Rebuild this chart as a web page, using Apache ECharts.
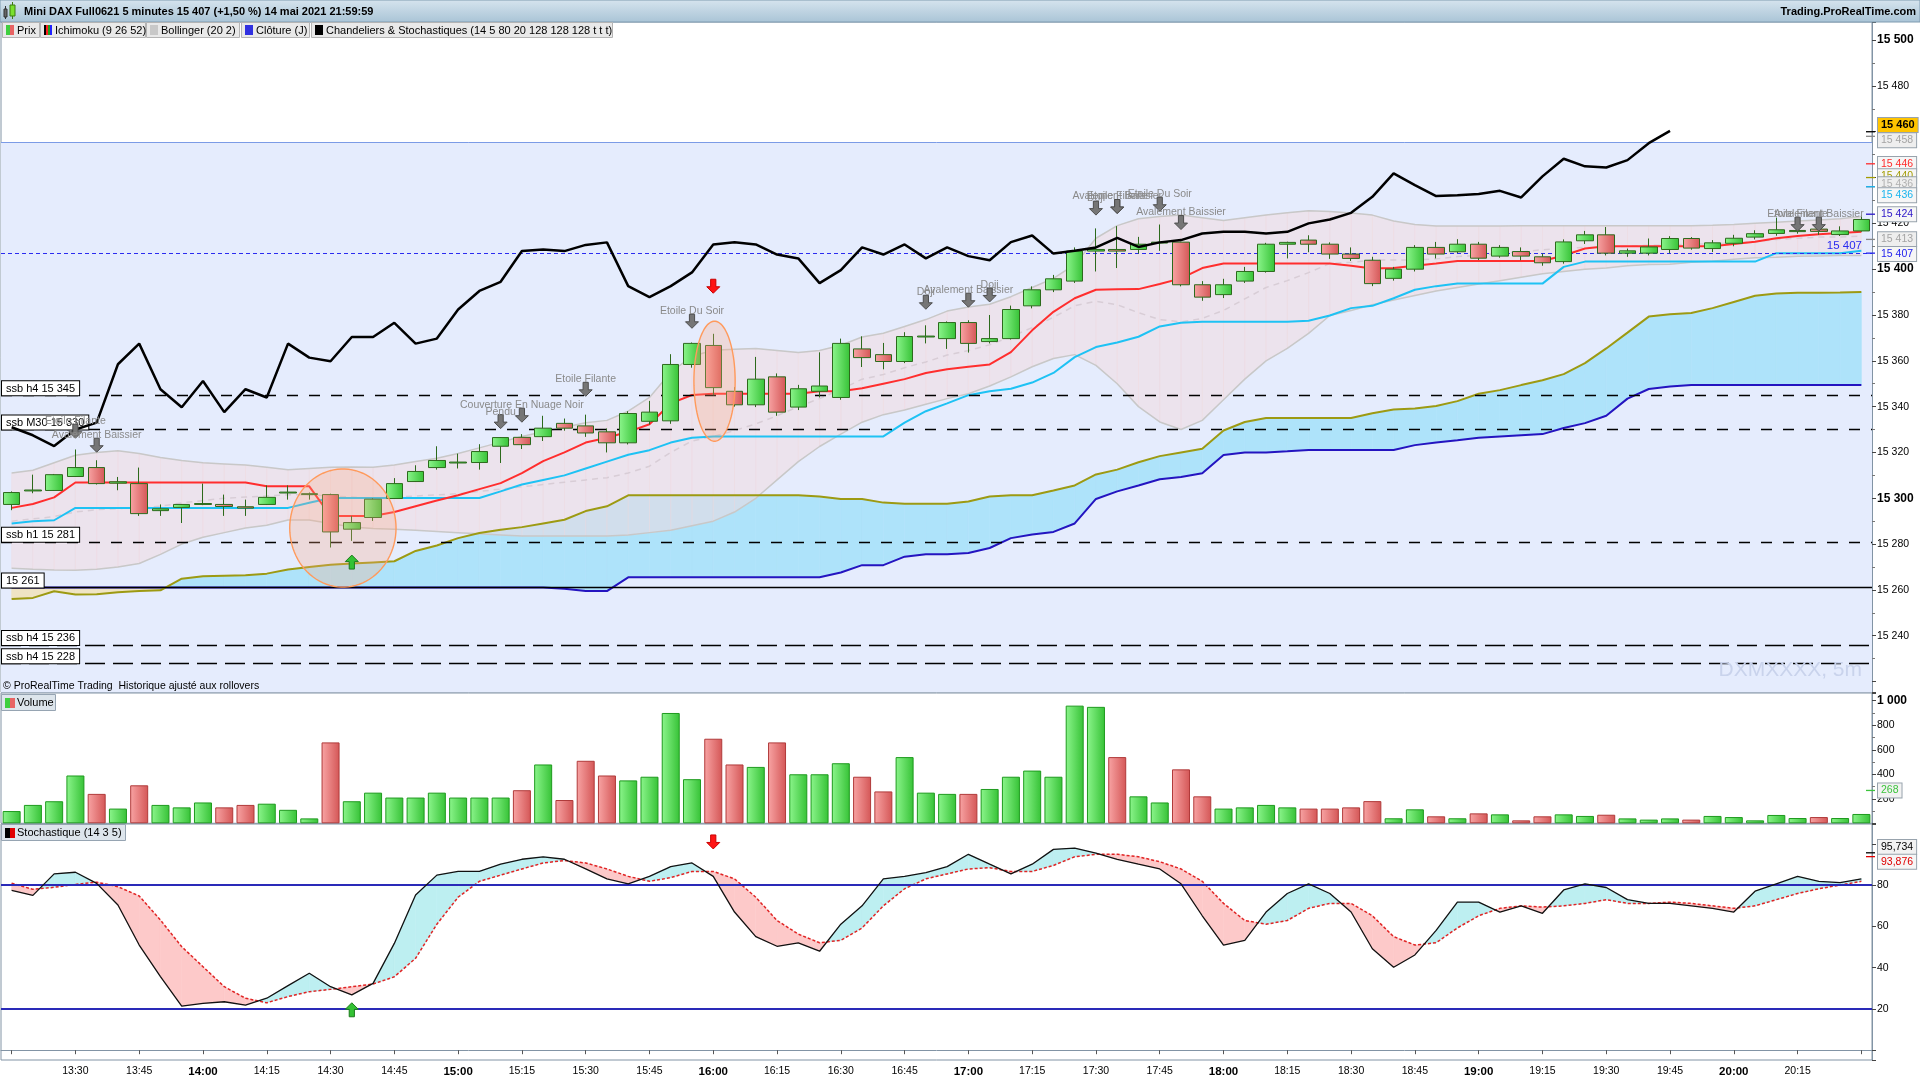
<!DOCTYPE html>
<html>
<head>
<meta charset="utf-8">
<title>Mini DAX Full0621 5 minutes</title>
<script src="https://cdn.jsdelivr.net/npm/echarts@6/dist/echarts.min.js"></script>
<style>
html,body{margin:0;padding:0;background:#ffffff;overflow:hidden}
#chart{width:1920px;height:1080px}
</style>
</head>
<body>
<div id="chart"></div>
<script>
// ================= DATA =================
const times = ['13:15','13:20','13:25','13:30','13:35','13:40','13:45','13:50','13:55',
'14:00','14:05','14:10','14:15','14:20','14:25','14:30','14:35','14:40','14:45','14:50','14:55',
'15:00','15:05','15:10','15:15','15:20','15:25','15:30','15:35','15:40','15:45','15:50','15:55',
'16:00','16:05','16:10','16:15','16:20','16:25','16:30','16:35','16:40','16:45','16:50','16:55',
'17:00','17:05','17:10','17:15','17:20','17:25','17:30','17:35','17:40','17:45','17:50','17:55',
'18:00','18:05','18:10','18:15','18:20','18:25','18:30','18:35','18:40','18:45','18:50','18:55',
'19:00','19:05','19:10','19:15','19:20','19:25','19:30','19:35','19:40','19:45','19:50','19:55',
'20:00','20:05','20:10','20:15','20:20','20:25','20:30'];

const tickTimes = ['13:15','13:30','13:45','14:00','14:15','14:30','14:45','15:00','15:15','15:30','15:45',
'16:00','16:15','16:30','16:45','17:00','17:15','17:30','17:45','18:00','18:15','18:30','18:45',
'19:00','19:15','19:30','19:45','20:00','20:15','20:30'];
const labelTimes = ['13:30','13:45','14:00','14:15','14:30','14:45','15:00','15:15','15:30','15:45',
'16:00','16:15','16:30','16:45','17:00','17:15','17:30','17:45','18:00','18:15','18:30','18:45',
'19:00','19:15','19:30','19:45','20:00','20:15'];

// candles: [open, close, low, high]
const candles = [
[15297.3,15302.5,15294.8,15303.0],[15303.2,15303.6,15302.2,15310.3],[15303.4,15310.3,15303.2,15310.6],[15309.5,15313.4,15309.3,15321.3],
[15313.4,15306.4,15306.0,15316.6],[15306.6,15307.2,15303.5,15309.3],[15306.4,15293.3,15292.3,15313.4],[15294.6,15295.4,15292.3,15297.3],
[15296.0,15297.3,15289.2,15297.5],[15297.3,15297.7,15297.0,15306.4],[15297.3,15296.4,15292.3,15301.6],[15296.3,15295.7,15292.3,15299.4],
[15297.3,15300.4,15297.1,15305.6],[15302.3,15302.7,15299.4,15305.6],[15301.6,15302.0,15299.4,15302.5],[15301.6,15285.3,15278.5,15302.0],
[15286.5,15289.4,15281.4,15292.3],[15291.6,15299.6,15290.1,15300.0],[15299.9,15306.4,15299.7,15308.8],[15307.3,15311.7,15307.1,15314.4],
[15313.4,15316.5,15312.5,15322.7],[15315.4,15315.8,15313.0,15319.5],[15315.6,15320.4,15312.5,15323.6],[15322.7,15326.5,15315.4,15326.7],
[15326.6,15323.4,15321.5,15328.0],[15326.9,15330.6,15325.0,15336.0],[15332.7,15330.6,15329.5,15334.8],[15331.6,15328.5,15326.8,15336.5],
[15329.0,15324.2,15320.0,15330.5],[15324.2,15337.0,15323.5,15338.0],[15333.6,15337.6,15332.2,15342.5],[15333.8,15358.4,15332.5,15362.9],
[15358.4,15367.6,15357.0,15368.0],[15366.7,15348.3,15345.0,15371.8],[15346.7,15340.8,15340.0,15348.5],[15340.8,15352.0,15339.8,15361.7],
[15353.0,15337.6,15336.0,15354.5],[15339.8,15347.8,15338.5,15349.5],[15346.7,15349.0,15344.0,15363.7],[15344.0,15367.6,15343.0,15369.7],
[15365.2,15361.4,15357.3,15370.7],[15362.7,15359.7,15356.3,15367.8],[15359.7,15370.6,15359.0,15372.5],[15370.4,15370.8,15367.6,15375.5],
[15369.7,15376.7,15365.2,15377.2],[15376.7,15367.6,15363.6,15377.7],[15368.4,15369.7,15367.6,15380.0],[15369.7,15382.4,15369.3,15384.1],
[15384.0,15391.0,15382.9,15392.5],[15391.0,15395.8,15390.0,15397.5],[15394.8,15407.9,15394.0,15409.5],[15407.9,15408.6,15399.0,15417.8],
[15408.6,15407.9,15400.5,15418.8],[15408.6,15410.9,15406.8,15414.1],[15411.4,15411.8,15408.0,15419.5],[15411.8,15393.2,15392.5,15412.0],
[15393.2,15387.8,15386.2,15394.8],[15388.9,15393.2,15387.4,15395.8],[15394.8,15399.0,15394.0,15401.0],[15399.0,15410.9,15398.5,15411.5],
[15410.9,15411.7,15404.7,15412.0],[15412.7,15410.9,15407.4,15414.8],[15410.9,15406.6,15404.5,15411.7],[15406.6,15404.7,15403.6,15409.5],
[15403.9,15393.7,15392.6,15405.4],[15396.0,15400.0,15395.0,15401.0],[15400.0,15409.5,15399.0,15410.5],[15409.5,15406.6,15404.7,15411.9],
[15407.6,15410.9,15407.0,15413.1],[15410.9,15404.8,15404.0,15411.9],[15405.7,15409.5,15405.0,15410.5],[15407.7,15405.7,15403.9,15409.5],
[15405.4,15402.8,15401.5,15406.8],[15403.3,15411.9,15402.4,15413.0],[15412.4,15415.0,15411.0,15416.7],[15415.0,15407.0,15406.0,15418.4],
[15407.0,15408.0,15405.4,15409.0],[15407.0,15409.7,15406.0,15413.4],[15408.6,15413.4,15407.0,15414.4],[15413.4,15409.2,15408.5,15414.0],
[15409.0,15411.5,15407.5,15412.7],[15411.3,15413.5,15410.0,15415.0],[15414.0,15415.5,15413.0,15417.0],[15415.6,15417.2,15414.6,15422.5],
[15416.4,15416.9,15415.5,15418.0],[15417.5,15416.5,15415.0,15419.0],[15415.1,15416.7,15414.5,15418.7],[15416.7,15421.7,15416.4,15423.6]];

const volumes = [100,150,180,390,240,120,310,150,130,170,130,150,160,110,40,660,180,250,210,210,250,210,
210,210,270,480,190,510,390,350,380,900,360,690,480,460,660,400,400,490,380,260,540,250,240,240,280,380,
430,380,960,950,540,220,170,440,220,120,130,150,130,120,120,130,181,41,114,57,41,81,73,24,57,73,60,70,
40,30,40,30,60,51,24,68,43,51,43,76];

const tenkan = [15295.8,15297.5,15300.4,15306.9,15306.9,15306.9,15306.9,15306.9,15306.9,15306.9,15306.9,15306.9,
15305.2,15305.2,15305.2,15292.3,15292.3,15292.3,15294.0,15296.5,15299.0,15301.3,15304.0,15306.6,15311.0,15316.2,
15320.0,15324.3,15326.4,15329.0,15332.3,15341.4,15345.1,15345.6,15345.6,15345.6,15345.6,15345.6,15346.7,15346.7,
15348.0,15350.0,15352.0,15354.7,15356.3,15357.4,15358.4,15363.8,15373.3,15381.4,15387.3,15391.0,15391.2,15391.3,
15393.5,15396.0,15400.5,15402.5,15402.5,15402.5,15402.5,15402.5,15402.5,15401.5,15400.3,15400.5,15401.5,15402.5,
15403.6,15403.6,15403.6,15403.6,15403.6,15406.0,15409.0,15410.0,15410.0,15410.0,15410.0,15410.0,15410.0,15411.0,
15412.0,15413.5,15414.5,15415.3,15415.8,15416.3];

const kijun = [15289.0,15290.0,15290.4,15295.8,15295.8,15295.8,15295.8,15295.8,15295.8,15295.8,15295.8,15295.8,
15295.8,15295.8,15298.0,15300.1,15300.1,15300.1,15300.1,15300.1,15300.1,15300.1,15300.1,15303.0,15306.0,15308.0,
15310.0,15313.0,15316.0,15319.0,15321.0,15324.3,15326.4,15327.0,15327.0,15327.0,15327.0,15327.0,15327.0,15327.0,
15327.0,15327.0,15333.0,15338.0,15341.4,15345.0,15346.7,15347.8,15350.5,15354.7,15361.6,15366.0,15368.0,15370.5,
15375.0,15376.6,15377.0,15377.0,15377.0,15377.0,15377.0,15377.5,15379.8,15383.0,15384.0,15387.3,15391.0,15392.6,
15393.7,15393.7,15393.7,15393.7,15393.7,15401.0,15403.3,15403.3,15403.3,15403.3,15403.3,15403.3,15403.3,15403.3,
15403.3,15407.0,15407.0,15407.0,15407.0,15408.0];

const senkouA = [15256.0,15256.5,15259.4,15258.0,15258.1,15259.0,15259.5,15259.8,15264.9,15266.0,15266.2,15266.4,
15267.1,15268.9,15270.0,15271.0,15271.5,15272.0,15272.5,15277.0,15279.4,15282.6,15284.8,15286.3,15287.4,15289.0,
15290.6,15294.4,15296.5,15301.3,15301.3,15301.3,15301.3,15301.3,15301.3,15301.3,15301.3,15301.3,15300.8,15299.7,
15299.7,15298.1,15297.6,15297.6,15297.6,15298.6,15300.8,15301.3,15301.3,15303.4,15305.6,15310.4,15312.5,15315.7,
15318.4,15320.0,15321.6,15329.6,15333.3,15335.0,15335.0,15335.0,15335.0,15335.0,15337.1,15338.7,15339.2,15340.3,
15342.4,15345.6,15347.2,15349.4,15351.5,15354.2,15359.0,15365.4,15372.3,15379.3,15380.3,15380.9,15383.0,15385.7,
15388.4,15389.4,15389.7,15389.7,15389.8,15390.0];

const senkouB = [15261,15261,15261,15261,15261,15261,15261,15261,15261,15261,15261,15261,15261,15261,15261,15261,
15261,15261,15261,15261,15261,15261,15261,15261,15261,15261,15260.5,15259.5,15259.5,15265.5,15265.5,15265.5,15265.5,
15265.5,15265.5,15265.5,15265.5,15265.5,15265.5,15267.6,15270.8,15270.8,15274.5,15275.6,15275.6,15276.1,15278.3,
15282.6,15284.2,15285.3,15289.0,15299.7,15303.0,15305.6,15308.3,15309.3,15310.9,15318.9,15320.0,15320.0,15320.5,
15321.1,15321.1,15321.1,15321.1,15321.1,15323.2,15324.3,15325.3,15326.4,15327.0,15327.5,15328.0,15330.7,15332.8,
15336.0,15343.5,15347.7,15348.8,15349.4,15349.4,15349.4,15349.4,15349.4,15349.4,15349.4,15349.4,15349.4];

const closeLine = [15331.0,15327.5,15322.8,15330.0,15333.0,15358.5,15367.5,15347.6,15339.7,15351.2,15337.6,15347.6,
15344.0,15367.5,15361.4,15359.8,15370.4,15370.4,15376.6,15367.5,15369.7,15382.4,15390.5,15394.5,15407.9,15408.6,
15407.9,15410.6,15411.7,15392.6,15387.8,15392.6,15398.6,15410.8,15411.8,15410.8,15406.4,15404.7,15393.9,15399.6,
15409.5,15406.4,15410.8,15404.7,15409.5,15405.7,15403.9,15411.8,15414.7,15406.8,15408.0,15409.5,15413.7,15409.7,
15411.7,15412.7,15415.6,15416.3,15416.3,15415.6,15416.3,15420.0,15421.7,15424.6,15431.6,15441.8,15436.7,15431.9,
15432.3,15432.8,15434.2,15431.3,15440.5,15448.2,15444.9,15444.4,15447.6,15455.0,15460.4,
null,null,null,null,null,null,null,null,null];

const bollUp = [15311.0,15312.2,15315.5,15318.8,15320.0,15320.7,15319.5,15317.8,15316.5,15315.5,15315.0,15314.5,
15313.5,15312.5,15313.0,15313.5,15313.7,15313.5,15314.5,15316.0,15317.5,15319.5,15322.0,15324.5,15327.0,15329.0,
15331.0,15333.0,15334.0,15338.0,15344.0,15355.0,15362.0,15364.6,15365.0,15365.4,15364.5,15363.6,15364.5,15366.8,
15370.4,15372.0,15375.0,15378.0,15381.7,15383.5,15384.7,15388.0,15392.0,15396.0,15402.0,15413.5,15419.0,15422.0,
15423.0,15423.6,15422.5,15421.2,15422.5,15423.6,15424.6,15425.5,15425.2,15424.5,15423.6,15421.0,15419.5,15418.8,
15418.8,15418.8,15418.8,15419.0,15419.0,15419.0,15419.0,15419.0,15419.0,15419.0,15419.0,15419.0,15419.2,15419.5,
15420.0,15420.5,15421.0,15421.5,15422.0,15423.0];

const bollLow = [15269.5,15269.0,15268.7,15268.6,15269.0,15270.0,15271.5,15275.5,15280.0,15283.0,15285.0,15287.0,
15288.2,15290.5,15290.5,15289.0,15287.5,15286.8,15286.5,15286.0,15285.5,15285.0,15284.5,15284.0,15283.5,15283.5,
15283.5,15283.5,15283.5,15284.0,15285.0,15286.0,15288.0,15290.0,15294.0,15300.0,15308.0,15316.0,15322.6,15328.0,
15333.2,15336.5,15338.5,15341.0,15343.5,15345.6,15349.0,15353.0,15357.4,15361.0,15362.7,15358.0,15350.0,15340.0,
15333.3,15330.0,15334.0,15343.0,15352.0,15360.0,15365.4,15372.0,15379.8,15382.0,15384.5,15386.5,15388.5,15390.5,
15392.0,15393.5,15395.0,15396.5,15398.0,15399.0,15400.0,15400.5,15401.5,15402.0,15402.2,15403.0,15403.5,15404.3,
15405.0,15405.2,15405.6,15405.8,15406.0,15406.0];

const bollMid = [15290.0,15291.0,15292.0,15294.0,15295.0,15295.5,15296.0,15296.5,15298.0,15299.0,15300.0,15300.5,
15301.0,15301.5,15301.5,15301.0,15300.5,15300.0,15300.5,15301.0,15301.5,15302.0,15303.0,15304.0,15305.0,15306.0,
15307.0,15308.0,15309.0,15311.0,15314.0,15320.0,15325.0,15327.0,15329.5,15332.5,15336.0,15340.0,15343.5,15347.5,
15352.0,15354.0,15357.0,15359.5,15362.5,15364.5,15367.0,15370.5,15374.5,15379.0,15384.0,15386.0,15384.5,15381.0,
15378.0,15377.0,15378.5,15382.0,15387.0,15392.0,15395.0,15398.5,15402.5,15403.0,15404.0,15404.0,15404.0,15404.5,
15405.5,15406.0,15407.0,15407.5,15408.5,15409.0,15409.5,15409.5,15410.0,15410.5,15410.5,15411.0,15411.0,15411.5,
15412.0,15413.0,15413.5,15414.0,15414.0,15414.5];

const stochK = [77.5,75.1,85.5,86.3,80.9,70.4,51,35.7,21.4,22.7,23.5,21.9,25.2,31.3,37.3,30.8,26.8,32.4,51.8,75.3,
84.9,86.7,86.7,90.2,92.6,93.8,92.6,87.9,83.1,80.7,84.3,89,90.8,84.3,67,55.1,50.4,52.1,48,61.1,
70,83.1,84.3,86.1,89,95,90.2,85.5,90.2,97.4,98,95.6,92.6,90.2,87.9,80.7,65.2,51,53.3,67,
76,80.7,76,67,49.2,40.2,46.2,58.1,71.8,71.8,67,70,66.4,77.7,80.7,78.9,73,71.2,71.2,70,
68.8,67,77.1,80.7,84.3,81.9,81.3,83.1];
const stochD = [81,78,79,80.4,81.5,79.3,74.8,63.1,50.2,40.5,30.8,25.2,23,26,28.4,29.5,30.8,32.1,35.6,44.6,
61.1,74.2,81.9,84.9,87.9,90.8,92,90.8,87.9,84.3,81.9,83.7,86.7,86.7,83.1,74.2,62.9,56.3,52.1,53.3,
59.3,70,78.3,83.1,85.5,87.9,88.5,86.7,86.7,89.6,93.8,95,95,93.8,91.4,87.9,81.9,71.2,62.9,61.1,
62.9,68.8,71.2,71.2,65.2,55.1,51,52.1,59.3,65.2,68.8,70,69.4,70,71.2,73,71.2,71.2,71.8,71.2,
70,68.8,70,73,76,78.3,80.1,81.9];

// horizontal levels (left boxed labels)
const levelValues = [15345, 15330, 15281, 15261, 15236, 15228];
const levelTexts  = ['ssb h4 15 345','ssb M30 15 330','ssb h1 15 281','15 261','ssb h4 15 236','ssb h4 15 228'];
const levelKinds  = ['short','short','short','solid','long','long'];
const dailyClose = 15407;
const zoneRange = [15215.3, 15455.5];

// right-axis value tags (positions as drawn, pushed apart) and their true values (axis ticks)
const tagValues = [15462.9, 15456.3, 15445.9, 15440.6, 15437.1, 15432.3, 15424.0, 15413.1, 15406.6];
const tagTrue   = [15460, 15458, 15446, 15440, 15436, 15436, 15424, 15413, 15407];
const tagTexts  = ['15 460','15 458','15 446','15 440','15 436','15 436','15 424','15 413','15 407'];
const tagColors = ['#000000','#a4a4a4','#ff2a2a','#a39c00','#b0b0b0','#19b4ee','#2a14c8','#a4a4a4','#2222ee'];
const volTagValue = 268, volTagText = '268';
const stochTagValues = [98.5, 91.4];
const stochTagTrue = [95.734, 93.876];
const stochTagTexts = ['95,734','93,876'];

// candlestick pattern annotations
const patIdx  = [3,4,23,24,27,32,43,45,46,51,52,52,54,55,84,85];
const patTip  = [15326.2,15320.1,15330.4,15333.2,15344.5,15374.2,15382.5,15383.4,15385.7,15423.6,15424.3,15424.3,15425.3,15417.3,15416.6,15416.6];
const patText = ['Etoile Filante','Avalement Baissier','Pendu','Couverture En Nuage Noir','Etoile Filante','Etoile Du Soir',
'Doji','Avalement Baissier','Doji','Doji','Avalement Baissier','Etoile Filante','Etoile Du Soir','Avalement Baissier',
'Etoile Filante','Avalement Baissier'];
const sigIdx = [33, 16], sigTip = [15389.5, 15275.2], sigDir = ['down','up'];
const stochSigIdx = [16, 33], stochSigTip = [23, 97.6], stochSigDir = ['up','down'];
// highlight ellipses: [centre index, centre price, x radius (bars), y radius (points)]
const ellipses = [[15.58, 15287, 2.5, 25.8], [33.06, 15351.1, 0.97, 26.2]];

// ================= CHART =================
const FONT = '"Liberation Sans", Arial, sans-serif';
const G = echarts.graphic;
const chart = echarts.init(document.getElementById('chart'), null, {width:1920, height:1080});
const fmt = v => String(Math.round(v)).replace(/\B(?=(\d{3})+(?!\d))/g, ' ');
const greenGrad = new G.LinearGradient(0,0,1,0,[{offset:0,color:'#8cf58c'},{offset:1,color:'#36c236'}]);
const redGrad = new G.LinearGradient(0,0,1,0,[{offset:0,color:'#f8a4a4'},{offset:1,color:'#d45656'}]);
const AX = '#8294a5';
const NOLINE = {color:'rgba(0,0,0,0)', width:1, type:'solid'};

function bandSeries(a, b, colUp, colDown, xi, yi, z) {
  const d = [];
  for (let i = 0; i < a.length - 1; i++) {
    if (a[i] == null || b[i] == null || a[i+1] == null || b[i+1] == null) continue;
    d.push([i, a[i], b[i], a[i+1], b[i+1]]);
  }
  return {
    type:'custom', xAxisIndex:xi, yAxisIndex:yi, z, silent:true, clip:true, data:d,
    encode:{x:0, y:[1,2]},
    renderItem(params, api) {
      const i = api.value(0), a0 = api.value(1), b0 = api.value(2), a1 = api.value(3), b1 = api.value(4);
      const A0 = api.coord([i, a0]), B0 = api.coord([i, b0]), A1 = api.coord([i+1, a1]), B1 = api.coord([i+1, b1]);
      const d0 = a0 - b0, d1 = a1 - b1;
      const col = v => v >= 0 ? colUp : colDown;
      const st = c => ({fill:c, stroke:c, lineWidth:0.6});
      if (d0 * d1 >= 0) {
        return {type:'polygon', shape:{points:[A0, A1, B1, B0]}, style:st(col(d0 + d1))};
      }
      const t = d0 / (d0 - d1);
      const C = [A0[0] + (A1[0] - A0[0]) * t, A0[1] + (A1[1] - A0[1]) * t];
      return {type:'group', children:[
        {type:'polygon', shape:{points:[A0, C, B0]}, style:st(col(d0))},
        {type:'polygon', shape:{points:[C, A1, B1]}, style:st(col(d1))}
      ]};
    }
  };
}

function arrowPts(x, y, dir) {
  const s = dir === 'down' ? -1 : 1;
  return [[x-2.6, y+s*14],[x+2.6, y+s*14],[x+2.6, y+s*6.5],[x+6.5, y+s*6.5],[x, y],[x-6.5, y+s*6.5],[x-2.6, y+s*6.5]];
}

function lineS(data, color, width, z, type, xi, yi) {
  return {type:'line', data, xAxisIndex:xi||0, yAxisIndex:yi||0, showSymbol:false, symbol:'none', z, silent:true,
    connectNulls:false, lineStyle:{color, width, type:type||'solid'}};
}

// value tags drawn right of the axis, with a small coloured tick at the true value
function tagSeries(xi, yi, values, trueVals, texts, colors, bgs, bolds) {
  return {type:'custom', xAxisIndex:xi, yAxisIndex:yi, z:20, silent:true, clip:false,
    data: values.map((v, k) => [times.length - 1, v, trueVals[k]]),
    renderItem(params, api) {
      const k = params.dataIndex;
      const last = api.coord([api.value(0), api.value(1)]);
      const right = params.coordSys.x + params.coordSys.width;
      const yb = last[1];
      const yt = api.coord([api.value(0), api.value(2)])[1];
      const bold = bolds[k];
      return {type:'group', children:[
        {type:'line', shape:{x1:right - 6, y1:yt, x2:right + 3, y2:yt}, style:{stroke:colors[k] === '#b0b0b0' || colors[k] === '#a4a4a4' ? '#888' : colors[k], lineWidth:1.3}},
        {type:'text', style:{text:texts[k], x:right + 6, y:yb, align:'left', textAlign:'left', verticalAlign:'middle', textVerticalAlign:'middle',
          fill:colors[k], font:(bold ? 'bold 11px ' : '10.5px ') + FONT, backgroundColor:bgs[k], borderColor:'#98a3ad', borderWidth:1,
          padding:[2,3,1,3]}}
      ]};
    }};
}

const xBase = {type:'category', data:times, boundaryGap:true, axisLine:{show:false}, axisTick:{show:false},
  axisLabel:{show:false}, splitLine:{show:false}};

const levelLines = levelValues.map((v, k) => ({
  yAxis: v,
  lineStyle:{color:'#000', width: levelKinds[k] === 'solid' ? 1.4 : 1.3,
    type: levelKinds[k] === 'solid' ? 'solid' : (levelKinds[k] === 'long' ? [20,8] : [11,11])},
  label:{show:true, position:'insideStartTop', distance:[1,0], formatter:levelTexts[k], color:'#000',
    fontFamily:FONT, fontSize:11, backgroundColor:'#ffffff', borderColor:'#000', borderWidth:1, padding:[2,4,1,4]}
}));

const tagBgs = tagColors.map((c, k) => k === 0 ? '#ffc400' : ((c === '#a4a4a4' || c === '#b0b0b0') ? '#eeeeee' : '#f6f6f6'));
const tagBold = tagColors.map((c, k) => k === 0);

const series = [
  // light-blue price zone
  {type:'line', xAxisIndex:0, yAxisIndex:0, data:times.map(() => null), z:1, silent:true,
    markArea:{silent:true, itemStyle:{color:'#e5ecfd'}, data:[[{yAxis:zoneRange[0]},{yAxis:zoneRange[1]}]]},
    markLine:{silent:true, symbol:'none', label:{show:false}, lineStyle:{color:'#7b9be6', width:1, type:'solid'},
      data:[{yAxis:zoneRange[1]}]}},
  // Ichimoku cloud
  bandSeries(senkouA, senkouB, '#aee3fa', '#efe4c4', 0, 0, 2),
  // Bollinger fill
  bandSeries(bollUp, bollLow, 'rgba(243,218,222,0.5)', 'rgba(243,218,222,0.5)', 0, 0, 3),
  lineS(bollUp, '#c8c8c8', 1.5, 3),
  lineS(bollLow, '#c8c8c8', 1.5, 3),
  lineS(bollMid, '#d8cdd6', 1.5, 3, [6,5]),
  lineS(senkouB, '#2414c0', 2, 4),
  lineS(senkouA, '#9d9a12', 2, 4),
  lineS(kijun, '#1ec2f4', 2, 4),
  lineS(tenkan, '#ff2e2e', 2, 4),
  {type:'candlestick', data:candles, xAxisIndex:0, yAxisIndex:0, z:5, barWidth:17, silent:true,
    itemStyle:{color:greenGrad, color0:redGrad, borderColor:'#2c6a1c', borderColor0:'#2c6a1c', borderWidth:1}},
  // level lines
  {type:'line', xAxisIndex:0, yAxisIndex:0, data:times.map(() => null), z:5, silent:true,
    markLine:{silent:true, symbol:'none', animation:false, data:[
      ...levelLines,
      {yAxis:dailyClose, lineStyle:{color:'#2b2bf0', width:1, type:[4,3]},
        label:{show:true, position:'insideEndTop', distance:[10,1], formatter:fmt(dailyClose), color:'#2b2bf0',
          fontFamily:FONT, fontSize:11.5}}
    ]}},
  lineS(closeLine, '#000000', 2.5, 6),
  // highlight ellipses
  {type:'custom', xAxisIndex:0, yAxisIndex:0, z:6, silent:true, data:ellipses.map(e => [Math.round(e[0]), e[1]]),
    renderItem(params, api) {
      const e = ellipses[params.dataIndex];
      const i0 = Math.floor(e[0]), f = e[0] - i0;
      const p0 = api.coord([i0, e[1]]), p1 = api.coord([i0 + 1, e[1]]);
      const cx = p0[0] + (p1[0] - p0[0]) * f, cy = p0[1];
      const rx = (p1[0] - p0[0]) * e[2];
      const ry = Math.abs(api.coord([i0, e[1] + e[3]])[1] - cy);
      const pts = [];
      for (let k = 0; k < 90; k++) { const a = k / 90 * Math.PI * 2; pts.push([cx + rx * Math.cos(a), cy + ry * Math.sin(a)]); }
      return {type:'polygon', shape:{points:pts}, style:{fill:'rgba(255,168,128,0.28)', stroke:'#ff9a5c', lineWidth:1.4}};
    }},
  // pattern arrows + names
  {type:'custom', xAxisIndex:0, yAxisIndex:0, z:7, silent:true, clip:false, data:patIdx.map((x, k) => [x, patTip[k]]),
    renderItem(params, api) {
      const p = api.coord([api.value(0), api.value(1)]);
      return {type:'group', children:[
        {type:'polygon', shape:{points:arrowPts(p[0], p[1], 'down')}, style:{fill:'#767676', stroke:'#4e4e4e', lineWidth:1}},
        {type:'text', style:{text:patText[params.dataIndex], x:p[0], y:p[1] - 17, align:'center', textAlign:'center',
          verticalAlign:'middle', textVerticalAlign:'middle', fill:'#8a8a8a', font:'10.5px ' + FONT}}
      ]};
    }},
  // signal arrows (main)
  {type:'custom', xAxisIndex:0, yAxisIndex:0, z:7, silent:true, data:sigIdx.map((x, k) => [x, sigTip[k]]),
    renderItem(params, api) {
      const p = api.coord([api.value(0), api.value(1)]);
      const dir = sigDir[params.dataIndex];
      return {type:'polygon', shape:{points:arrowPts(p[0], p[1], dir)},
        style: dir === 'down' ? {fill:'#ff1414', stroke:'#c80000', lineWidth:1} : {fill:'#34c234', stroke:'#1d7a1d', lineWidth:1}};
    }},
  tagSeries(0, 0, tagValues, tagTrue, tagTexts, tagColors, tagBgs, tagBold),
  // volume
  {type:'bar', xAxisIndex:1, yAxisIndex:1, z:3, barWidth:18, silent:true,
    data: volumes.map((v, i) => ({value:v, itemStyle: candles[i][1] >= candles[i][0]
      ? {color:greenGrad, borderColor:'#1e9a1e', borderWidth:1} : {color:redGrad, borderColor:'#b03a3a', borderWidth:1}}))},
  tagSeries(1, 1, [volTagValue], [volTagValue], [volTagText], ['#3cc43c'], ['#f2f2f2'], [false]),
  // stochastic
  bandSeries(stochK, stochD, '#bdeff1', '#fdc9c9', 2, 2, 2),
  {type:'line', data:stochD, xAxisIndex:2, yAxisIndex:2, showSymbol:false, symbol:'none', z:4, silent:true,
    lineStyle:{color:'#e02424', width:1.5, type:[3,2]}},
  {type:'line', data:stochK, xAxisIndex:2, yAxisIndex:2, showSymbol:false, symbol:'none', z:5, silent:true,
    lineStyle:{color:'#111111', width:1.3},
    markLine:{silent:true, symbol:'none', label:{show:false}, data:[
      {yAxis:80, lineStyle:{color:'#2a2ab8', width:2, type:'solid'}},
      {yAxis:20, lineStyle:{color:'#2a2ab8', width:2, type:'solid'}}
    ]}},
  tagSeries(2, 2, stochTagValues, stochTagTrue, stochTagTexts, ['#000000', '#e00000'], ['#f2f2f2', '#f6f6f6'], [false, false]),
  {type:'custom', xAxisIndex:2, yAxisIndex:2, z:7, silent:true, data:stochSigIdx.map((x, k) => [x, stochSigTip[k]]),
    renderItem(params, api) {
      const p = api.coord([api.value(0), api.value(1)]);
      const dir = stochSigDir[params.dataIndex];
      return {type:'polygon', shape:{points:arrowPts(p[0], p[1], dir)},
        style: dir === 'down' ? {fill:'#ff1414', stroke:'#c80000', lineWidth:1} : {fill:'#34c234', stroke:'#1d7a1d', lineWidth:1}};
    }}
];

// ---------- static texts / header ----------
const els = [];
els.push({type:'rect', shape:{x:0, y:0, width:1920, height:22}, z:100,
  style:{fill:new G.LinearGradient(0,0,0,1,[{offset:0,color:'#d6e4ee'},{offset:1,color:'#a9c4d6'}]), stroke:'#7f9bb0', lineWidth:1}});
els.push({type:'rect', shape:{x:4, y:9, width:3, height:8}, z:101, style:{fill:'#666', stroke:'#333'}});
els.push({type:'line', shape:{x1:5.5, y1:6, x2:5.5, y2:19}, z:100, style:{stroke:'#333'}});
els.push({type:'rect', shape:{x:10, y:5, width:5, height:11}, z:101, style:{fill:'#7ae02e', stroke:'#3d7a12'}});
els.push({type:'line', shape:{x1:12.5, y1:2, x2:12.5, y2:19}, z:100, style:{stroke:'#3d7a12'}});
els.push({type:'text', z:101, style:{text:'Mini DAX Full0621 5 minutes 15 407 (+1,50 %) 14 mai 2021 21:59:59', x:24, y:12,
  verticalAlign:'middle', textVerticalAlign:'middle', fill:'#000', font:'bold 11px ' + FONT}});
els.push({type:'text', z:101, style:{text:'Trading.ProRealTime.com', x:1916, y:12, align:'right', textAlign:'right',
  verticalAlign:'middle', textVerticalAlign:'middle', fill:'#000', font:'bold 11px ' + FONT}});

const legendItems = [
  {x:2, w:37, t:'Prix', icon:[['#3fcf3f',4],['#e86464',4]]},
  {x:40, w:105, t:'Ichimoku (9 26 52)', icon:[['#000',2],['#ff2020',2],['#20a020',2],['#2020ff',2]]},
  {x:146, w:93, t:'Bollinger (20 2)', icon:[['#c8c8c8',8]]},
  {x:241, w:68, t:'Clôture (J)', icon:[['#3030e0',8]]},
  {x:311, w:301, t:'Chandeliers & Stochastiques (14 5 80 20 128 128 128 t t t)', icon:[['#000',8]]}
];
legendItems.forEach(it => {
  els.push({type:'rect', shape:{x:it.x + 0.5, y:22.5, width:it.w, height:15}, z:100, style:{fill:'#e9e9e9', stroke:'#b4b4b4', lineWidth:1}});
  let ix = it.x + 4;
  it.icon.forEach(([c, w]) => { els.push({type:'rect', shape:{x:ix, y:25, width:w, height:10}, z:101, style:{fill:c}}); ix += w; });
  els.push({type:'text', z:101, style:{text:it.t, x:it.x + 15, y:30.5, verticalAlign:'middle', textVerticalAlign:'middle',
    fill:'#000', font:'11px ' + FONT}});
});

function panelLabel(y, w, text, icon) {
  els.push({type:'rect', shape:{x:1.5, y:y + 0.5, width:w, height:16}, z:100, style:{fill:'#dde5ec', stroke:'#96a4b2', lineWidth:1}});
  let ix = 5;
  icon.forEach(c => { els.push({type:'rect', shape:{x:ix, y:y + 4, width:5, height:10}, z:101, style:{fill:c}}); ix += 5; });
  els.push({type:'text', z:101, style:{text, x:17, y:y + 9, verticalAlign:'middle', textVerticalAlign:'middle', fill:'#000', font:'11px ' + FONT}});
}
panelLabel(694, 54, 'Volume', ['#3fcf3f', '#e86464']);
panelLabel(824, 124, 'Stochastique (14 3 5)', ['#000', '#e00000']);

els.push({type:'text', z:100, style:{text:'© ProRealTime Trading  Historique ajusté aux rollovers', x:3, y:686,
  verticalAlign:'middle', textVerticalAlign:'middle', fill:'#000', font:'10.5px ' + FONT}});
els.push({type:'text', z:100, style:{text:'DXMXXXX, 5m', x:1862, y:670, align:'right', textAlign:'right',
  verticalAlign:'middle', textVerticalAlign:'middle', fill:'#c9d3ec', font:'21px ' + FONT}});

const option = {
  animation:false,
  backgroundColor:'#ffffff',
  textStyle:{fontFamily:FONT},
  grid:[
    {left:1, top:22, width:1871, height:670.3, show:true, backgroundColor:'#ffffff', borderColor:AX, borderWidth:1},
    {left:1, top:693, width:1871, height:130.3, show:true, backgroundColor:'#ffffff', borderColor:AX, borderWidth:1},
    {left:1, top:824, width:1871, height:236, show:true, backgroundColor:'#ffffff', borderColor:AX, borderWidth:1}
  ],
  xAxis:[
    Object.assign({}, xBase, {gridIndex:0}),
    Object.assign({}, xBase, {gridIndex:1}),
    Object.assign({}, xBase, {gridIndex:2,
      axisLine:{show:true, lineStyle:{color:AX}},
      axisTick:{show:true, alignWithLabel:true, interval:(i, v) => tickTimes.includes(v), length:4, lineStyle:{color:'#555'}},
      axisLabel:{show:true, interval:(i, v) => labelTimes.includes(v), margin:6, color:'#000', fontSize:10.5, fontFamily:FONT,
        formatter: v => v.endsWith(':00') ? '{b|' + v + '}' : v,
        rich:{b:{fontWeight:'bold', fontSize:11.5, color:'#000', fontFamily:FONT}}}})
  ],
  yAxis:[
    {gridIndex:0, type:'value', position:'right', min:zoneRange[0], max:15507.9, splitNumber:15,
      axisLine:{show:true, lineStyle:{color:AX}}, splitLine:{show:false},
      axisTick:{show:true, length:4, lineStyle:{color:'#444'}},
      minorTick:{show:true, splitNumber:2, length:3, lineStyle:{color:'#777'}},
      axisLabel:{margin:5, color:'#000', fontSize:10.5, fontFamily:FONT,
        formatter: v => { const r = Math.round(v); if (Math.abs(v - r) > 0.01 || r % 20 !== 0 || r < 15230) return ''; const s = fmt(r); return r % 100 === 0 ? '{b|' + s + '}' : s; },
        rich:{b:{fontWeight:'bold', fontSize:12, color:'#000', fontFamily:FONT}}}},
    {gridIndex:1, type:'value', position:'right', min:0, max:1063, interval:200,
      axisLine:{show:true, lineStyle:{color:AX}}, splitLine:{show:false},
      axisTick:{show:true, length:4, lineStyle:{color:'#444'}},
      minorTick:{show:true, splitNumber:2, length:3, lineStyle:{color:'#777'}},
      axisLabel:{margin:5, color:'#000', fontSize:10.5, fontFamily:FONT,
        formatter: v => { if (v <= 0 || v % 200 !== 0) return ''; const s = fmt(v); return v === 1000 ? '{b|' + s + '}' : s; },
        rich:{b:{fontWeight:'bold', fontSize:12, color:'#000', fontFamily:FONT}}}},
    {gridIndex:2, type:'value', position:'right', min:-4.75, max:109.7, splitNumber:5,
      axisLine:{show:true, lineStyle:{color:AX}}, splitLine:{show:false},
      axisTick:{show:true, length:4, lineStyle:{color:'#444'}},
      axisLabel:{margin:5, color:'#000', fontSize:10.5, fontFamily:FONT,
        formatter: v => { const r = Math.round(v); if (Math.abs(v - r) > 0.01 || ![20,40,60,80].includes(r)) return ''; return String(r); }}}
  ],
  series,
  graphic:{elements:els}
};
chart.setOption(option);
</script>
</body>
</html>
